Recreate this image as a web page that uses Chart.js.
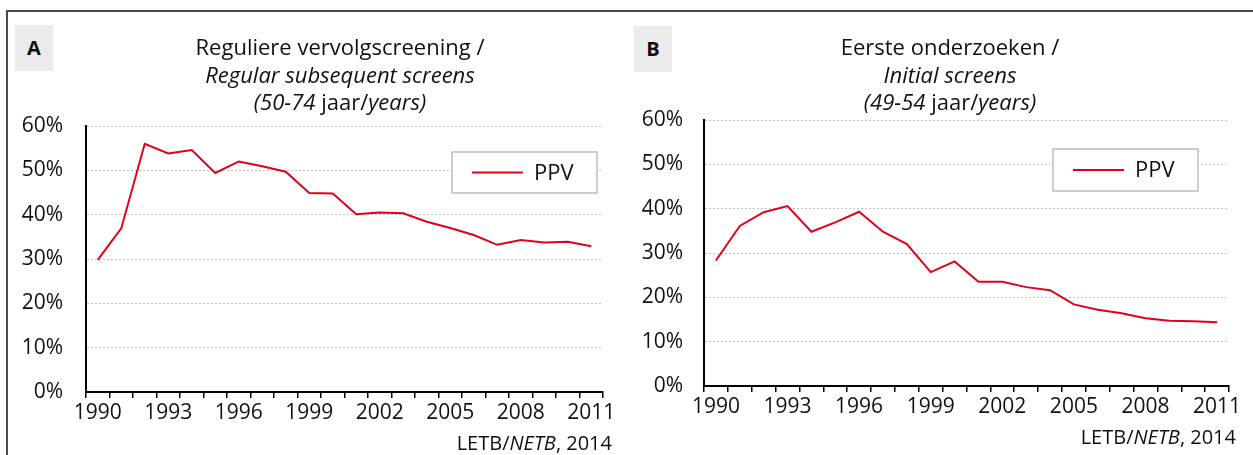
<!DOCTYPE html>
<html>
<head>
<meta charset="utf-8">
<script src="https://cdn.jsdelivr.net/npm/chart.js@4.4.1/dist/chart.umd.min.js"></script>
<style>
  html, body { margin: 0; padding: 0; background: #fff; }
  body { width: 1253px; height: 455px; position: relative; overflow: hidden; font-family: "Open Sans", sans-serif; color: #111; }
  .frame { position: absolute; left: 6px; top: 10px; width: 1247px; height: 445px; border-left: 2px solid #4a4a4a; border-top: 2px solid #4a4a4a; box-sizing: border-box; }
  canvas { position: absolute; top: 0; }
  .tag { position: absolute; width: 38px; height: 46px; background: #ebebeb; font-weight: bold; font-size: 20px; line-height: 46px; text-align: center; color: #111; }
  .title { position: absolute; width: 440px; text-align: center; font-size: 22px; line-height: 27.5px; top: 33px; white-space: nowrap; color: #111; }
  .src { position: absolute; width: 240px; text-align: right; font-size: 20px; line-height: 20px; white-space: nowrap; color: #111; }
</style>
</head>
<body>
<div class="frame"></div>
<canvas id="chartA" width="620" height="455" style="left:0px"></canvas>
<canvas id="chartB" width="633" height="455" style="left:620px"></canvas>
<div class="tag" style="left:15px; top:25px;">A</div>
<div class="tag" style="left:634px; top:26px;">B</div>
<div class="title" style="left:120px;">Reguliere vervolgscreening /<br><i>Regular subsequent screens</i><br><i>(50-74</i> jaar/<i>years)</i></div>
<div class="title" style="left:730px;">Eerste onderzoeken /<br><i>Initial screens</i><br><i>(49-54</i> jaar/<i>years)</i></div>
<div class="src" style="left:372px; top:433px;">LETB/<i>NETB</i>, 2014</div>
<div class="src" style="left:996px; top:427px;">LETB/<i>NETB</i>, 2014</div>
<script>
// ---- data ----
const years = ['1990','1991','1992','1993','1994','1995','1996','1997','1998','1999','2000',
               '2001','2002','2003','2004','2005','2006','2007','2008','2009','2010','2011'];
const seriesLabel = 'PPV';
const ppvRegular = [29.8, 36.9, 56.0, 53.8, 54.6, 49.4, 52.0, 50.9, 49.7, 44.9, 44.8,
                    40.1, 40.5, 40.3, 38.4, 37.0, 35.4, 33.2, 34.3, 33.7, 33.9, 32.9];
const ppvInitial = [28.3, 36.1, 39.2, 40.6, 34.8, 36.9, 39.3, 34.8, 32.0, 25.7, 28.1,
                    23.5, 23.5, 22.3, 21.6, 18.4, 17.2, 16.4, 15.3, 14.7, 14.6, 14.4];
const yMin = 0, yMax = 60, yStep = 10;
const labelEvery = 3;

const RED = '#e3001b';
const FONT = '"Open Sans", sans-serif';

const boxLegend = {
  id: 'boxLegend',
  afterDatasetsDraw(chart, args, opts) {
    const ctx = chart.ctx, a = chart.chartArea;
    const x = a.right - opts.fromRight, y = a.top + opts.fromTop;
    const w = opts.w, h = opts.h;
    ctx.save();
    ctx.fillStyle = '#fff';
    ctx.fillRect(x, y, w, h);
    ctx.strokeStyle = '#bdbdbd';
    ctx.lineWidth = 1.5;
    ctx.strokeRect(x, y, w, h);
    const ds = chart.data.datasets[0];
    ctx.strokeStyle = ds.borderColor;
    ctx.lineWidth = 2;
    ctx.beginPath();
    ctx.moveTo(x + 20, y + h / 2);
    ctx.lineTo(x + 71, y + h / 2);
    ctx.stroke();
    ctx.fillStyle = '#111';
    ctx.font = '22px ' + FONT;
    ctx.textBaseline = 'middle';
    ctx.textAlign = 'left';
    ctx.fillText(ds.label, x + 82, y + h / 2 + 1);
    ctx.restore();
  }
};

function makeChart(id, values, pad, yWidth, yPad, legendPos) {
  return new Chart(document.getElementById(id), {
    type: 'line',
    data: {
      labels: years,
      datasets: [{
        label: seriesLabel,
        data: values,
        borderColor: RED,
        backgroundColor: RED,
        borderWidth: 2,
        pointRadius: 0,
        tension: 0,
        fill: false
      }]
    },
    options: {
      responsive: false,
      animation: false,
      devicePixelRatio: 1,
      layout: { padding: pad },
      plugins: {
        legend: { display: false },
        tooltip: { enabled: false },
        title: { display: false },
        boxLegend: legendPos
      },
      scales: {
        x: {
          type: 'category',
          offset: true,
          afterFit(s) { s.height = 40; },
          grid: { display: true, drawOnChartArea: false, drawTicks: true, tickLength: 6, color: '#000', lineWidth: 1.5, offset: true },
          border: { display: true, color: '#000', width: 2 },
          ticks: {
            autoSkip: false, maxRotation: 0, minRotation: 0, padding: 2,
            color: '#111', font: { family: FONT, size: 21 },
            callback(v, i) { return i % labelEvery === 0 ? this.getLabelForValue(v) : ''; }
          }
        },
        y: {
          min: yMin, max: yMax,
          afterFit(s) { s.width = yWidth; },
          grid: { color: '#c4c4c4', lineWidth: 1, drawTicks: false },
          border: { display: true, color: '#000', width: 2, dash: [2, 2] },
          ticks: {
            stepSize: yStep, padding: yPad,
            color: '#111', font: { family: FONT, size: 21 },
            callback(v) { return v + '%'; }
          }
        }
      }
    },
    plugins: [boxLegend]
  });
}

makeChart('chartA', ppvRegular, { top: 126, right: 17, bottom: 23, left: 0 }, 86, 23,
          { fromRight: 151, fromTop: 26, w: 145, h: 41 });
makeChart('chartB', ppvInitial, { top: 120, right: 24, bottom: 29, left: 0 }, 84, 21,
          { fromRight: 176, fromTop: 29, w: 145, h: 42 });
</script>
</body>
</html>
